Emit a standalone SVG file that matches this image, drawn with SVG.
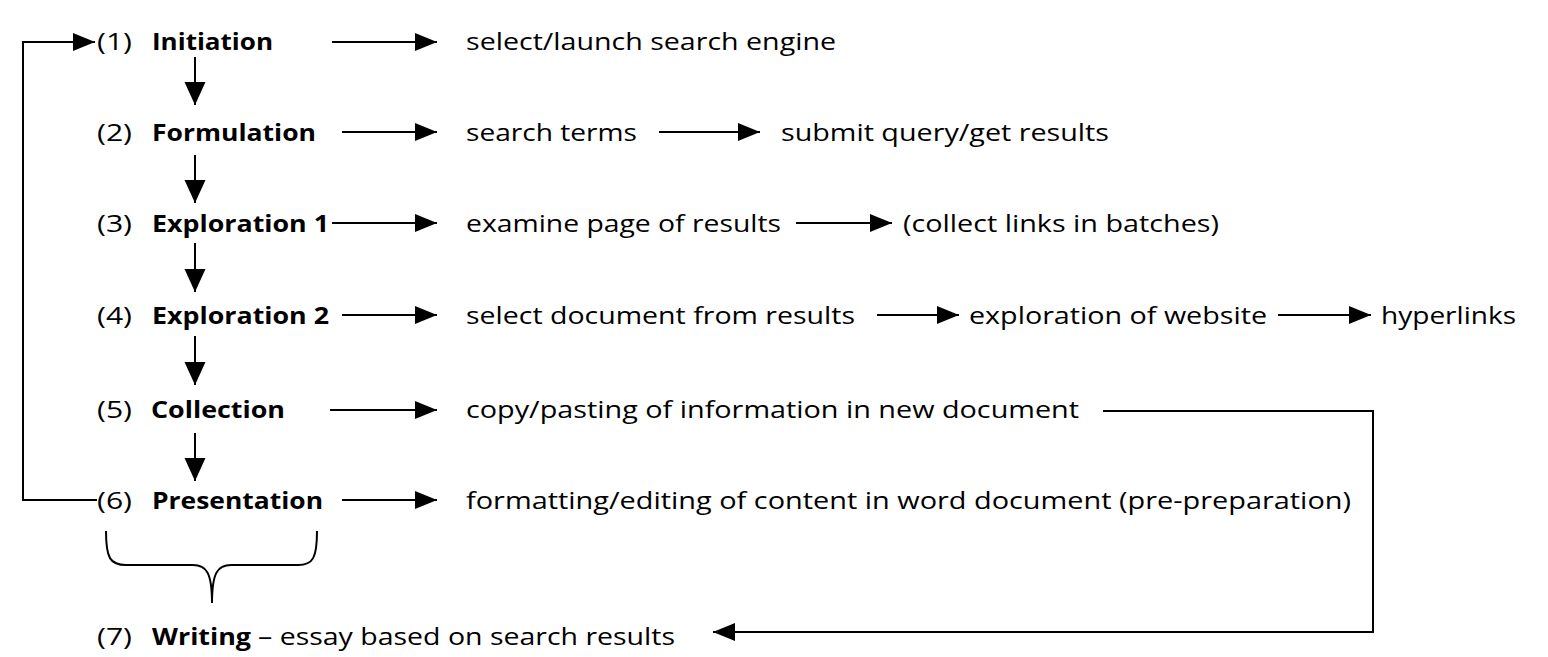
<svg xmlns="http://www.w3.org/2000/svg" width="1548" height="657" viewBox="0 0 1548 657">
<style>
text{font-family:"Open Sans","Noto Sans","Liberation Sans",sans-serif;font-size:24px;fill:#000}
.b{font-weight:700}
.ln{fill:none;stroke:#000;stroke-width:2}
</style>
<defs>
<marker id="ah" markerUnits="userSpaceOnUse" markerWidth="24" markerHeight="20" refX="22" refY="9" orient="auto"><path d="M0,0 L22,9 L0,18 Z" fill="#000"/></marker>
<marker id="dh" markerUnits="userSpaceOnUse" markerWidth="26" markerHeight="24" refX="23" refY="10.5" orient="auto"><path d="M0,0 L23,10.5 L0,21 Z" fill="#000"/></marker>
</defs>
<rect width="1548" height="657" fill="#fff"/>
<g id="n1"><text x="97" y="50" textLength="35" lengthAdjust="spacingAndGlyphs">(1)</text><text class="b" x="152" y="50" textLength="121" lengthAdjust="spacingAndGlyphs">Initiation</text></g>
<g id="n1a"><text x="466" y="50" textLength="370" lengthAdjust="spacingAndGlyphs">select/launch search engine</text></g>
<g id="n2"><text x="97" y="141" textLength="35" lengthAdjust="spacingAndGlyphs">(2)</text><text class="b" x="152" y="141" textLength="164" lengthAdjust="spacingAndGlyphs">Formulation</text></g>
<g id="n2a"><text x="466" y="141" textLength="171" lengthAdjust="spacingAndGlyphs">search terms</text></g>
<g id="n2b"><text x="781" y="141" textLength="328" lengthAdjust="spacingAndGlyphs">submit query/get results</text></g>
<g id="n3"><text x="97" y="232" textLength="35" lengthAdjust="spacingAndGlyphs">(3)</text><text class="b" x="152" y="232" textLength="177" lengthAdjust="spacingAndGlyphs">Exploration 1</text></g>
<g id="n3a"><text x="466" y="232" textLength="315" lengthAdjust="spacingAndGlyphs">examine page of results</text></g>
<g id="n3b"><text x="903" y="232" textLength="316" lengthAdjust="spacingAndGlyphs">(collect links in batches)</text></g>
<g id="n4"><text x="97" y="324" textLength="35" lengthAdjust="spacingAndGlyphs">(4)</text><text class="b" x="152" y="324" textLength="177" lengthAdjust="spacingAndGlyphs">Exploration 2</text></g>
<g id="n4a"><text x="466" y="324" textLength="389" lengthAdjust="spacingAndGlyphs">select document from results</text></g>
<g id="n4b"><text x="969" y="324" textLength="298" lengthAdjust="spacingAndGlyphs">exploration of website</text></g>
<g id="n4c"><text x="1381" y="324" textLength="135" lengthAdjust="spacingAndGlyphs">hyperlinks</text></g>
<g id="n5"><text x="97" y="418" textLength="35" lengthAdjust="spacingAndGlyphs">(5)</text><text class="b" x="151" y="418" textLength="134" lengthAdjust="spacingAndGlyphs">Collection</text></g>
<g id="n5a"><text x="466" y="418" textLength="613" lengthAdjust="spacingAndGlyphs">copy/pasting of information in new document</text></g>
<g id="n6"><text x="97" y="509" textLength="35" lengthAdjust="spacingAndGlyphs">(6)</text><text class="b" x="152" y="509" textLength="171" lengthAdjust="spacingAndGlyphs">Presentation</text></g>
<g id="n6a"><text x="466" y="509" textLength="885" lengthAdjust="spacingAndGlyphs">formatting/editing of content in word document (pre-preparation)</text></g>
<g id="n7"><text x="97" y="645" textLength="35" lengthAdjust="spacingAndGlyphs">(7)</text><text class="b" x="152" y="645" textLength="99" lengthAdjust="spacingAndGlyphs">Writing</text><text x="258" y="645" textLength="417" lengthAdjust="spacingAndGlyphs">– essay based on search results</text></g>
<g id="connectors">
<line class="ln" x1="332" y1="42" x2="437" y2="42" marker-end="url(#ah)"/>
<line class="ln" x1="342" y1="132" x2="437" y2="132" marker-end="url(#ah)"/>
<line class="ln" x1="659" y1="132" x2="760" y2="132" marker-end="url(#ah)"/>
<line class="ln" x1="332" y1="223" x2="437" y2="223" marker-end="url(#ah)"/>
<line class="ln" x1="796" y1="223" x2="892" y2="223" marker-end="url(#ah)"/>
<line class="ln" x1="342" y1="315" x2="437" y2="315" marker-end="url(#ah)"/>
<line class="ln" x1="877" y1="315" x2="959" y2="315" marker-end="url(#ah)"/>
<line class="ln" x1="1278" y1="315" x2="1371" y2="315" marker-end="url(#ah)"/>
<line class="ln" x1="330" y1="410" x2="437" y2="410" marker-end="url(#ah)"/>
<line class="ln" x1="342" y1="500" x2="437" y2="500" marker-end="url(#ah)"/>
<line class="ln" x1="195" y1="57" x2="195" y2="105" marker-end="url(#dh)"/>
<line class="ln" x1="195" y1="155" x2="195" y2="203" marker-end="url(#dh)"/>
<line class="ln" x1="195" y1="243" x2="195" y2="292" marker-end="url(#dh)"/>
<line class="ln" x1="195" y1="336" x2="195" y2="385" marker-end="url(#dh)"/>
<line class="ln" x1="195" y1="433" x2="195" y2="481" marker-end="url(#dh)"/>
<path class="ln" d="M97,500 H23 V42 H95" marker-end="url(#ah)"/>
<path class="ln" d="M1103,411 H1373 V632 H713" marker-end="url(#ah)"/>
<path class="ln" d="M106,531 C106,558 110,565 126,565 L193,565 C206,565 212,572 212,603 C212,572 218,565 231,565 L298,565 C313,565 317,558 317,531"/>
</g>
</svg>
